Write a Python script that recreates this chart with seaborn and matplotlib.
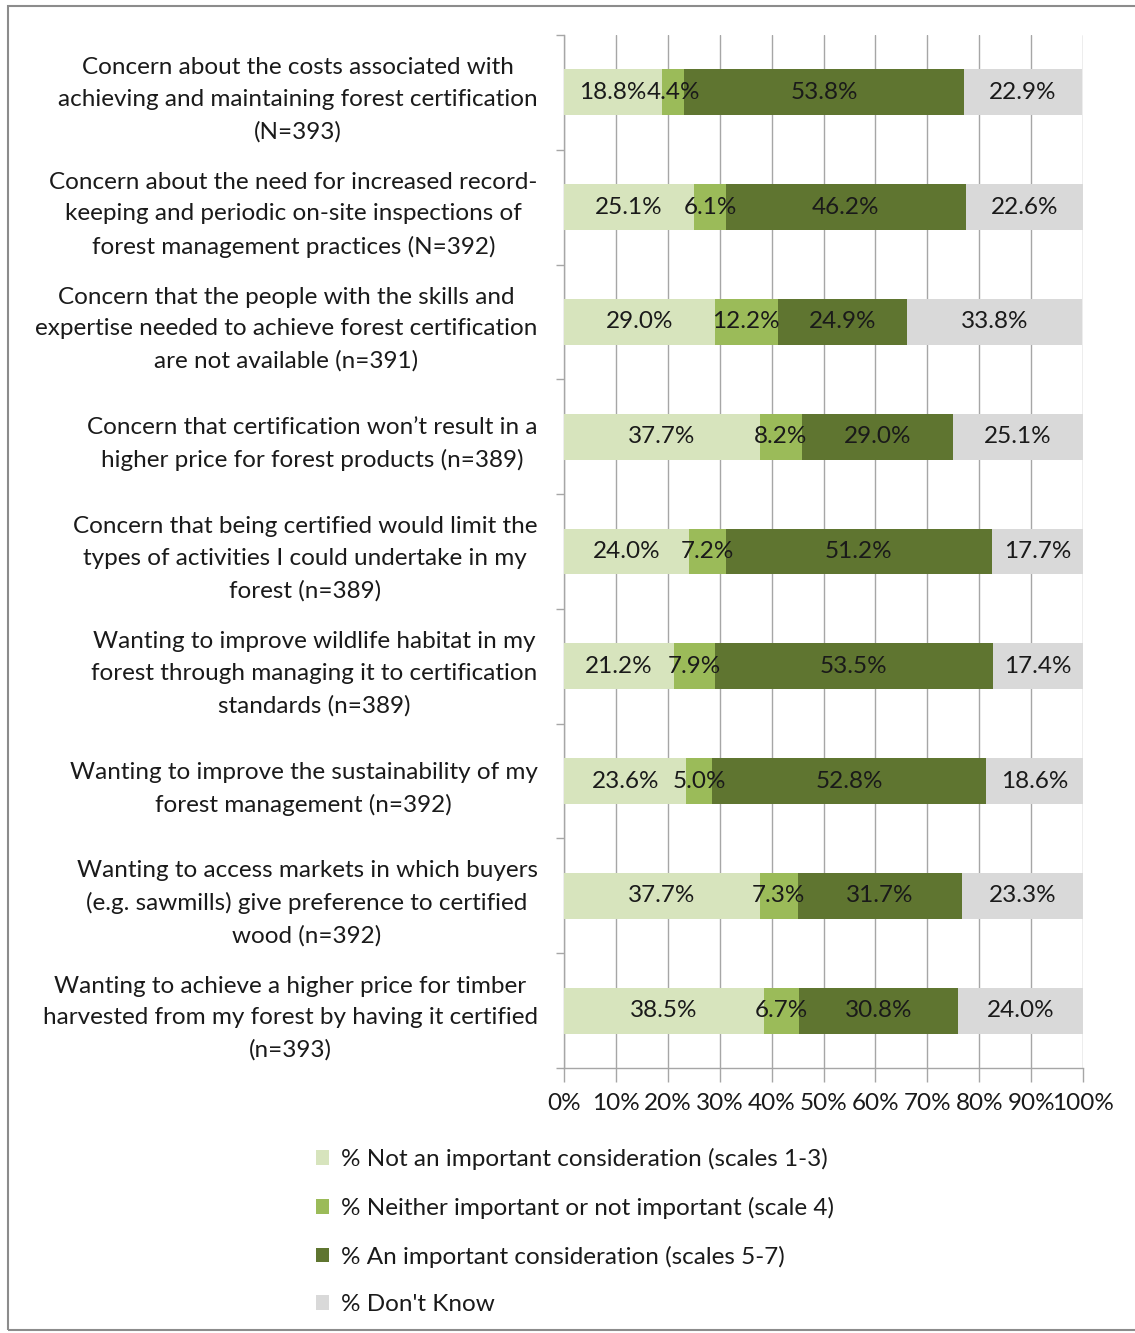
import numpy as np
import pandas as pd
import seaborn as sns
import matplotlib.pyplot as plt
from matplotlib.patches import Rectangle, Patch

sns.set_theme(style="white")
plt.rcParams['font.family'] = ['Lato', 'DejaVu Sans']

# Data
categories = [
    "Concern about the costs associated with\nachieving and maintaining forest certification\n(N=393)",
    "Concern about the need for increased record-\nkeeping and periodic on-site inspections of\nforest management practices (N=392)",
    "Concern that the people with the skills and\nexpertise needed to achieve forest certification\nare not available (n=391)",
    "Concern that certification won\u2019t result in a\nhigher price for forest products (n=389)",
    "Concern that being certified would limit the\ntypes of activities I could undertake in my\nforest (n=389)",
    "Wanting to improve wildlife habitat in my\nforest through managing it to certification\nstandards (n=389)",
    "Wanting to improve the sustainability of my\nforest management (n=392)",
    "Wanting to access markets in which buyers\n(e.g. sawmills) give preference to certified\nwood (n=392)",
    "Wanting to achieve a higher price for timber\nharvested from my forest by having it certified\n(n=393)",
]
not_important = [18.8, 25.1, 29.0, 37.7, 24.0, 21.2, 23.6, 37.7, 38.5]
neither = [4.4, 6.1, 12.2, 8.2, 7.2, 7.9, 5.0, 7.3, 6.7]
important = [53.8, 46.2, 24.9, 29.0, 51.2, 53.5, 52.8, 31.7, 30.8]
dont_know = [22.9, 22.6, 33.8, 25.1, 17.7, 17.4, 18.6, 23.3, 24.0]

series_names = [
    "% Not an important consideration (scales 1-3)",
    "% Neither important or not important (scale 4)",
    "% An important consideration (scales 5-7)",
    "% Don't Know",
]
colors = ["#D7E4BD", "#9BBB59", "#5F7530", "#D9D9D9"]

df = pd.DataFrame({
    "category": categories,
    series_names[0]: not_important,
    series_names[1]: neither,
    series_names[2]: important,
    series_names[3]: dont_know,
})

# cumulative values -> stacked look by overdrawing from the longest bar down
cum = df[series_names].cumsum(axis=1)
starts = cum - df[series_names]

fig = plt.figure(figsize=(11.35, 13.33), dpi=100)
ax = fig.add_axes([564 / 1135, 1 - 1068 / 1333, (1083 - 564) / 1135, (1068 - 35) / 1333])

for name, c in reversed(list(zip(series_names, colors))):
    sns.barplot(x=cum[name], y=df["category"], orient="h", color=c,
                width=0.4, ax=ax, saturation=1, linewidth=0, zorder=3)

# labels centered on each segment
for name in series_names:
    for i in range(len(df)):
        val = df[name][i]
        mid = starts[name][i] + val / 2
        ax.text(mid, i, f"{val:.1f}%", ha="center", va="center",
                fontsize=17.5, color="#1a1a1a", zorder=5)

ax.set_xlim(0, 100)
ax.set_ylim(len(df) - 0.5, -0.5)
ax.set_xticks(np.arange(0, 101, 10))
ax.set_xticklabels([f"{t}%" for t in range(0, 101, 10)], fontsize=17.5)
ax.xaxis.grid(True, color="#A6A6A6", linewidth=1, zorder=0)
ax.set_axisbelow(True)
ax.set_xlabel("")
ax.set_ylabel("")

# category boundaries as small ticks on the y axis
ax.set_yticks(np.arange(-0.5, len(df), 1), minor=True)
ax.tick_params(axis="y", which="major", length=0, pad=19, labelsize=17.5)
ax.tick_params(axis="y", which="minor", left=True, length=6, color="#A6A6A6", width=1)
ax.tick_params(axis="x", bottom=True, length=10, color="#A6A6A6", width=1, pad=8)
for lab in ax.get_yticklabels():
    lab.set_multialignment("center")
    lab.set_linespacing(1.62)
    lab.set_color("#1a1a1a")
for lab in ax.get_xticklabels():
    lab.set_color("#1a1a1a")

for s in ["top", "right"]:
    ax.spines[s].set_visible(False)
for s in ["left", "bottom"]:
    ax.spines[s].set_color("#A6A6A6")
    ax.spines[s].set_linewidth(1)

handles = [Patch(facecolor=c, edgecolor="none") for c in colors]
fig.legend(handles, series_names, loc="upper left",
           bbox_to_anchor=(294 / 1135, 1 - 1126 / 1333), frameon=False,
           fontsize=17.5, handlelength=0.55, handleheight=0.55, handletextpad=0.5,
           labelspacing=1.1, labelcolor="#1a1a1a")

# outer frame
fig.patches.append(Rectangle((8 / 1135, 3 / 1333), 1.2, 1 - 9 / 1333,
                             transform=fig.transFigure, fill=False,
                             edgecolor="#8c8c8c", linewidth=1.5))

fig.savefig("out.png", dpi=100)
